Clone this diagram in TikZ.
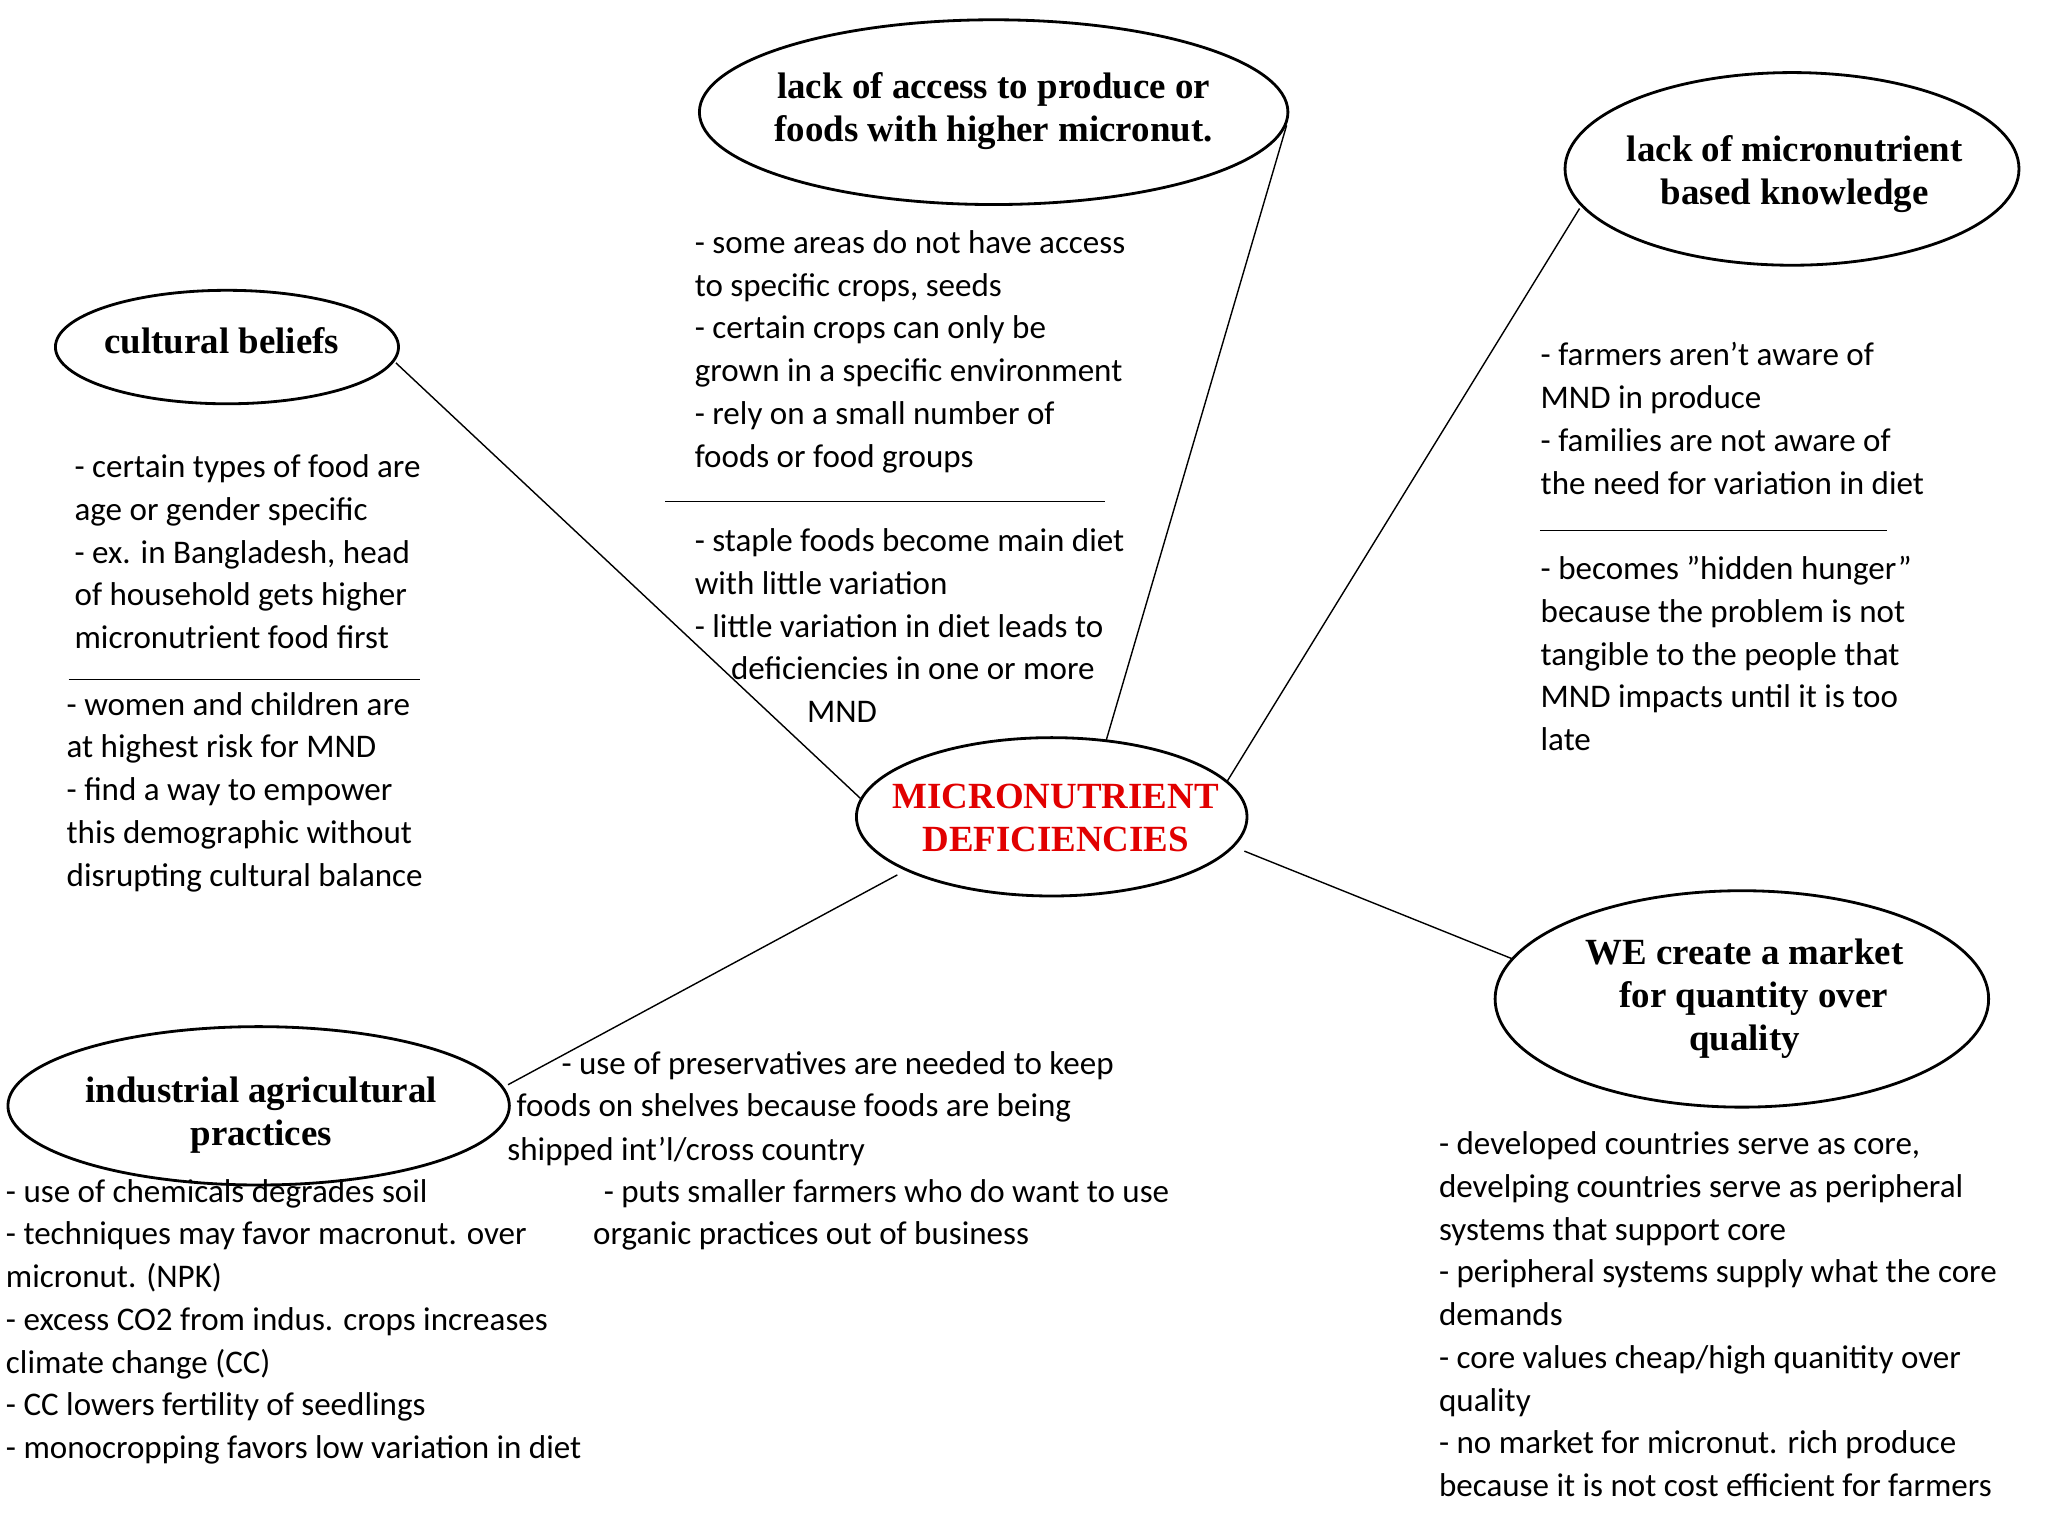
\documentclass[tikz,border=0pt]{standalone}
\usepackage{fontspec}
\setmainfont{Carlito}
\newfontfamily\titlefont{Liberation Serif}
\begin{document}
\begin{tikzpicture}[x=0.013196cm,y=-0.013196cm,
  ttl/.style={font=\titlefont\bfseries\fontsize{10.5}{12.2}\selectfont,align=center},
  body/.style={anchor=north west,inner sep=0pt,align=left,font=\fontsize{9.4}{12.17}\selectfont},
  conn/.style={thin}]
\useasboundingbox (0,0) rectangle (1552,1165);
\draw[thick] (753,85) ellipse (223 and 70);
\draw[thick] (1358,128) ellipse (172 and 73);
\draw[thick] (172,263) ellipse (130 and 43);
\draw[thick] (797,619) ellipse (148 and 60);
\draw[thick] (1320,757) ellipse (187 and 82);
\draw[thick] (196,838) ellipse (190 and 60);
\node[ttl] (tA) at (753,84) {lack of access to produce or\\foods with higher micronut.};
\node[ttl] (tB) at (1360,132) {lack of micronutrient\\based knowledge};
\node[ttl] (tC) at (168,258) {cultural beliefs};
\node[ttl,text={rgb,255:red,225;green,0;blue,0}] (tM) at (800,620) {MICRONUTRIENT\\DEFICIENCIES};
\node[ttl] (tW) at (1322,757) {WE create a market\\\ \ for quantity over\\quality};
\node[ttl] (tI) at (198,845) {industrial agricultural\\practices};
\coordinate (a1) at (838,562); \coordinate (a2) at (975,95);
\coordinate (b1) at (930,592); \coordinate (b2) at (1197,158);
\coordinate (c1) at (652,605); \coordinate (c2) at (300,275);
\coordinate (d1) at (943,645); \coordinate (d2) at (1147,727);
\coordinate (e1) at (680,663); \coordinate (e2) at (385,822);
\draw[conn] (a1)--(a2); \draw[conn] (b1)--(b2); \draw[conn] (c1)--(c2);
\draw[conn] (d1)--(d2); \draw[conn] (e1)--(e2);
\coordinate (s1) at (504,380); \coordinate (s2) at (837,380); \draw[conn] (s1)--(s2);
\coordinate (s3) at (1167,402); \coordinate (s4) at (1430,402); \draw[conn] (s3)--(s4);
\coordinate (s5) at (52,515); \coordinate (s6) at (318,515); \draw[conn] (s5)--(s6);
\node[body] (x1) at (526,174) {- some areas do not have access\\to specific crops, seeds\\- certain crops can only be\\grown in a specific environment\\- rely on a small number of\\foods or food groups};
\node[body] (x2) at (526,400) {- staple foods become main diet\\with little variation\\- little variation in diet leads to\\\hspace{1.1em}deficiencies in one or more\\\hspace{3.4em}MND};
\node[body] (x3) at (1167,259) {- farmers aren\char39 t aware of\\MND in produce\\- families are not aware of\\the need for variation in diet};
\node[body] (x4) at (1167,421) {- becomes \char34 hidden hunger\char34\\because the problem is not\\tangible to the people that\\MND impacts until it is too\\late};
\node[body] (x5) at (56,344) {- certain types of food are\\age or gender specific\\- ex. in Bangladesh, head\\of household gets higher\\micronutrient food first};
\node[body] (x6) at (50,524) {- women and children are\\at highest risk for MND\\- find a way to empower\\this demographic without\\disrupting cultural balance};
\node[body] (x7) at (425,796) {- use of preservatives are needed to keep};
\node[body] (x8) at (391,828) {foods on shelves because foods are being};
\node[body] (x9) at (384,861) {shipped int\char39 l/cross country};
\node[body] (x10) at (457,893) {- puts smaller farmers who do want to use};
\node[body] (x11) at (449,925) {organic practices out of business};
\node[body] (x12) at (4,893) {- use of chemicals degrades soil\\- techniques may favor macronut. over\\micronut. (NPK)\\- excess CO2 from indus. crops increases\\climate change (CC)\\- CC lowers fertility of seedlings\\- monocropping favors low variation in diet};
\node[body] (x13) at (1090,857) {- developed countries serve as core,\\develping countries serve as peripheral\\systems that support core\\- peripheral systems supply what the core\\demands\\- core values cheap/high quanitity over\\quality\\- no market for micronut. rich produce\\because it is not cost efficient for farmers};
\end{tikzpicture}
\end{document}
